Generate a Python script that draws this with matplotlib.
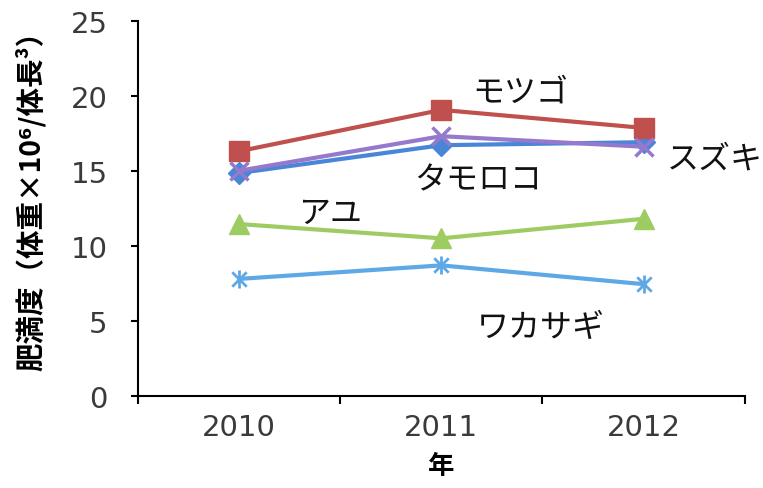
import matplotlib
matplotlib.use('Agg')
import matplotlib.pyplot as plt
from matplotlib.path import Path
import numpy as np

plt.rcParams['font.family'] = ['Noto Sans CJK JP', 'DejaVu Sans']

years = ['2010', '2011', '2012']
tamoroko = [14.85, 16.7, 16.9]
motsugo = [16.3, 19.05, 17.85]
ayu = [11.45, 10.5, 11.8]
suzuki = [15.0, 17.3, 16.6]
wakasagi = [7.8, 8.7, 7.45]

# excel style star marker (x plus vertical bar)
star = Path([(-1, -1), (1, 1), (-1, 1), (1, -1), (0, -1.25), (0, 1.25)],
            [Path.MOVETO, Path.LINETO, Path.MOVETO, Path.LINETO, Path.MOVETO, Path.LINETO])

fig = plt.figure(figsize=(7.63, 4.89), dpi=100)
ax = fig.add_axes([0.181, 0.188, 0.795, 0.768])

x = np.arange(len(years))
ax.plot(x, tamoroko, color='#4a86d8', lw=3, marker='D', ms=11)
ax.plot(x, motsugo, color='#c0504d', lw=3, marker='s', ms=15)
ax.plot(x, ayu, color='#9fcc62', lw=3, marker='^', ms=14)
ax.plot(x, suzuki, color='#9479cc', lw=3, marker='x', ms=13, mew=2.5)
ax.plot(x, wakasagi, color='#5ea8e6', lw=3, marker=star, ms=13, mew=2)

ax.set_xlim(-0.5, 2.5)
ax.set_ylim(0, 25)
ax.set_xticks(x)
ax.set_xticklabels(years)
ax.set_xticks([-0.5, 0.5, 1.5, 2.5], minor=True)
ax.tick_params(axis='x', which='major', length=0, pad=12)
ax.tick_params(axis='x', which='minor', length=6, width=1.5, direction='out')
ax.set_yticks([0, 5, 10, 15, 20, 25])
ax.tick_params(axis='y', length=5, width=1.5, direction='out', pad=17)
for lab in ax.get_xticklabels() + ax.get_yticklabels():
    lab.set_family('DejaVu Sans')
    lab.set_fontsize(21)
    lab.set_color('#3a3a3a')

for s in ['top', 'right']:
    ax.spines[s].set_visible(False)
for s in ['left', 'bottom']:
    ax.spines[s].set_linewidth(1.5)

ax.set_ylabel('肥満度（体重×10⁶/体長³）', fontsize=20.5, fontweight='bold',
              va='center')
ax.yaxis.set_label_coords(-0.178, 0.54)
ax.set_xlabel('年', fontsize=19, fontweight='bold')
ax.xaxis.set_label_coords(0.5, -0.148)

lab_kw = dict(fontsize=23, ha='center', va='center', color='#111111', clip_on=False)
ax.text(1.39, 20.3, 'モツゴ', **lab_kw)
ax.text(2.35, 15.8, 'スズキ', **lab_kw)
ax.text(1.18, 14.4, 'タモロコ', **lab_kw)
ax.text(0.45, 12.2, 'アユ', **lab_kw)
ax.text(1.49, 4.6, 'ワカサギ', **lab_kw)

fig.savefig('out.png', dpi=100)
